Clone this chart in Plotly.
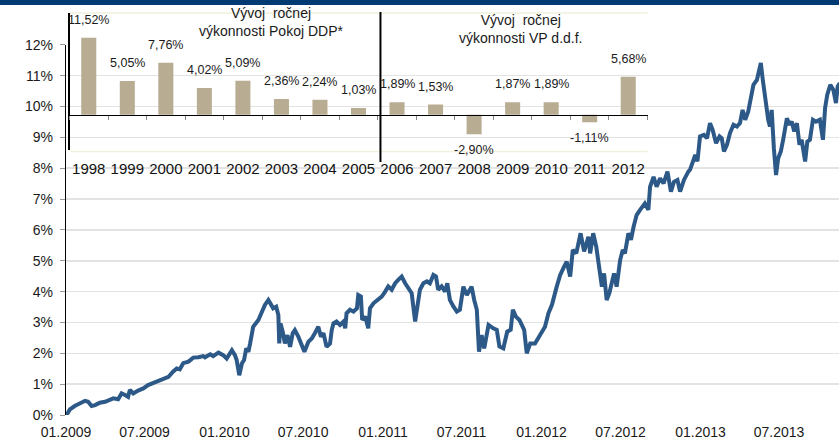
import plotly.graph_objects as go

# ---------------- inset: annual returns ----------------
years = ["1998", "1999", "2000", "2001", "2002", "2003", "2004", "2005",
         "2006", "2007", "2008", "2009", "2010", "2011", "2012"]
annual_returns = [11.52, 5.05, 7.76, 4.02, 5.09, 2.36, 2.24, 1.03,
                  1.89, 1.53, -2.90, 1.87, 1.89, -1.11, 5.68]
return_labels = ["11,52%", "5,05%", "7,76%", "4,02%", "5,09%", "2,36%", "2,24%", "1,03%",
                 "1,89%", "1,53%", "-2,90%", "1,87%", "1,89%", "-1,11%", "5,68%"]
title_ddp = "Vývoj\u00a0 ročnej<br>výkonnosti Pokoj DDP*"
title_vp = "Vývoj\u00a0 ročnej<br>výkonnosti VP d.d.f."

# ---------------- main line: cumulative performance ----------------
dates = [
    "2009-01-02", "2009-01-10", "2009-01-21", "2009-02-02", "2009-02-14", "2009-02-21", "2009-03-01", "2009-03-09",
    "2009-03-20", "2009-04-01", "2009-04-12", "2009-04-20", "2009-05-01", "2009-05-09", "2009-05-17", "2009-05-24",
    "2009-05-28", "2009-06-05", "2009-06-16", "2009-06-28", "2009-07-09", "2009-07-21", "2009-08-02", "2009-08-13",
    "2009-08-25", "2009-09-05", "2009-09-13", "2009-09-20", "2009-09-28", "2009-10-10", "2009-10-21", "2009-11-02",
    "2009-11-13", "2009-11-17", "2009-11-29", "2009-12-06", "2009-12-18", "2009-12-29",
    "2010-01-06", "2010-01-18", "2010-01-25", "2010-01-29", "2010-02-04", "2010-02-10", "2010-02-15", "2010-02-20",
    "2010-02-25", "2010-03-01", "2010-03-08", "2010-03-20", "2010-03-28", "2010-04-04", "2010-04-12", "2010-04-17",
    "2010-04-23", "2010-04-30", "2010-05-05", "2010-05-07", "2010-05-10", "2010-05-15", "2010-05-20", "2010-05-26",
    "2010-06-01", "2010-06-07", "2010-06-12", "2010-06-20", "2010-06-28", "2010-07-04", "2010-07-13", "2010-07-21",
    "2010-07-28", "2010-08-05", "2010-08-11", "2010-08-17", "2010-08-24", "2010-09-01", "2010-09-05", "2010-09-09",
    "2010-09-16", "2010-09-24", "2010-10-02", "2010-10-06", "2010-10-09", "2010-10-17", "2010-10-25", "2010-11-02",
    "2010-11-05", "2010-11-11", "2010-11-14", "2010-11-21", "2010-11-28", "2010-12-02", "2010-12-10", "2010-12-21",
    "2010-12-29",
    "2011-01-06", "2011-01-13", "2011-01-21", "2011-01-29", "2011-02-05", "2011-02-13", "2011-02-21", "2011-02-28",
    "2011-03-08", "2011-03-16", "2011-03-21", "2011-03-27", "2011-04-04", "2011-04-12", "2011-04-19", "2011-04-27",
    "2011-05-03", "2011-05-08", "2011-05-16", "2011-05-24", "2011-05-29", "2011-06-04", "2011-06-12", "2011-06-20",
    "2011-06-27", "2011-07-05", "2011-07-13", "2011-07-24", "2011-07-30", "2011-08-05", "2011-08-10", "2011-08-16",
    "2011-08-22", "2011-09-01", "2011-09-12", "2011-09-20", "2011-09-26", "2011-10-05", "2011-10-14", "2011-10-22",
    "2011-10-27", "2011-11-03", "2011-11-11", "2011-11-22", "2011-11-28", "2011-12-06", "2011-12-17", "2011-12-29",
    "2012-01-09", "2012-01-17", "2012-01-25", "2012-02-05", "2012-02-13", "2012-02-22", "2012-02-28", "2012-03-07",
    "2012-03-13", "2012-03-21", "2012-03-26", "2012-03-31", "2012-04-08", "2012-04-18", "2012-04-22", "2012-04-29",
    "2012-05-06", "2012-05-11", "2012-05-19", "2012-05-24", "2012-05-30", "2012-06-05", "2012-06-11", "2012-06-16",
    "2012-06-22", "2012-06-30", "2012-07-06", "2012-07-11", "2012-07-19", "2012-07-25", "2012-07-31", "2012-08-07",
    "2012-08-15", "2012-08-26", "2012-09-03", "2012-09-07", "2012-09-15", "2012-09-22", "2012-09-30", "2012-10-08",
    "2012-10-17", "2012-10-25", "2012-11-01", "2012-11-09", "2012-11-15", "2012-11-24", "2012-12-04", "2012-12-08",
    "2012-12-16", "2012-12-20", "2012-12-25", "2012-12-31",
    "2013-01-09", "2013-01-16", "2013-01-23", "2013-01-29", "2013-02-06", "2013-02-14", "2013-02-19", "2013-02-24",
    "2013-03-03", "2013-03-10", "2013-03-18", "2013-03-26", "2013-04-02", "2013-04-08", "2013-04-14", "2013-04-21",
    "2013-04-27", "2013-05-03", "2013-05-11", "2013-05-16", "2013-05-20", "2013-05-24", "2013-05-27", "2013-06-01",
    "2013-06-06", "2013-06-10", "2013-06-14", "2013-06-19", "2013-06-24", "2013-06-29", "2013-07-05", "2013-07-11",
    "2013-07-19", "2013-07-25", "2013-07-30", "2013-08-05", "2013-08-11", "2013-08-17", "2013-08-22", "2013-08-30",
    "2013-09-04", "2013-09-10", "2013-09-17", "2013-09-24", "2013-10-03", "2013-10-10", "2013-10-15", "2013-10-20",
    "2013-10-27", "2013-11-03", "2013-11-09", "2013-11-13", "2013-11-18",
]
values = [
    0.00, 0.18, 0.29, 0.38, 0.46, 0.43, 0.29, 0.32,
    0.40, 0.43, 0.51, 0.54, 0.51, 0.70, 0.65, 0.59,
    0.81, 0.70, 0.79, 0.86, 0.97, 1.03, 1.11, 1.16,
    1.24, 1.41, 1.51, 1.48, 1.68, 1.73, 1.86, 1.87,
    1.91, 1.87, 1.97, 1.91, 2.02, 1.94,
    1.83, 2.10, 1.94, 1.78, 1.29, 1.67, 1.78, 2.16,
    2.05, 2.32, 2.86, 3.08, 3.35, 3.57, 3.73, 3.62,
    3.46, 3.51, 3.24, 2.32, 2.97, 2.70, 2.32, 2.59,
    2.21, 2.65, 2.75, 2.54, 2.21, 2.05, 2.37, 2.48,
    2.65, 2.86, 2.54, 2.65, 2.21, 2.32, 2.76, 2.97,
    3.03, 2.92, 3.03, 2.81, 3.30, 3.41, 3.35, 3.46,
    3.89, 3.84, 3.08, 3.19, 2.81, 3.46, 3.62, 3.73,
    3.84,
    4.00, 4.17, 4.06, 4.27, 4.38, 4.49, 4.27, 4.11,
    3.95, 3.03, 3.62, 4.06, 4.27, 4.33, 4.27, 4.54,
    4.49, 4.06, 4.17, 4.00, 4.27, 3.73, 3.52, 3.35,
    3.41, 4.16, 3.89, 4.16, 3.73, 3.41, 2.05, 2.59,
    2.16, 2.92, 2.81, 2.76, 2.22, 2.16, 2.70, 2.76,
    3.41, 3.19, 3.08, 2.76, 2.00, 2.32, 2.32, 2.59,
    2.86, 3.30, 3.57, 4.16, 4.54, 4.81, 4.97, 4.49,
    5.35, 5.24, 5.51, 5.89, 5.30, 5.78, 5.24, 5.89,
    5.46, 5.02, 4.16, 4.59, 3.73, 3.94, 4.38, 4.59,
    4.16, 5.02, 5.35, 5.24, 5.89, 5.68, 6.10, 6.48,
    6.65, 6.86, 6.65, 7.40, 7.72, 7.40, 7.67, 7.51,
    7.89, 7.24, 7.56, 7.62, 7.24, 7.62, 7.89, 7.95,
    8.27, 8.43, 8.22, 9.03,
    9.08, 8.97, 9.46, 9.24, 8.81, 9.03, 8.97, 8.54,
    8.76, 9.14, 9.41, 9.35, 9.46, 9.89, 9.57, 9.84,
    10.27, 10.70, 10.86, 11.19, 11.41, 10.92, 10.59, 9.89,
    9.57, 9.35, 9.89, 8.65, 7.78, 8.32, 8.54, 8.97,
    9.62, 9.41, 9.51, 9.19, 9.46, 8.76, 8.92, 8.22,
    8.86, 8.92, 9.57, 9.51, 9.57, 8.92, 9.95, 10.38,
    10.70, 10.54, 10.11, 10.65, 10.76,
]

x_tick_dates = ["2009-01-01", "2009-07-01", "2010-01-01", "2010-07-01", "2011-01-01",
                "2011-07-01", "2012-01-01", "2012-07-01", "2013-01-01", "2013-07-01"]
x_tick_labels = ["01.2009", "07.2009", "01.2010", "07.2010", "01.2011",
                 "07.2011", "01.2012", "07.2012", "01.2013", "07.2013"]
y_tick_values = [0, 1, 2, 3, 4, 5, 6, 7, 8, 9, 10, 11, 12]
y_tick_labels = ["0%", "1%", "2%", "3%", "4%", "5%", "6%", "7%", "8%", "9%", "10%", "11%", "12%"]

# ---------------- layout geometry ----------------
W, H = 839, 439
ML, MR, MT, MB = 66, 0, 5, 24
PW, PH = W - ML - MR, H - MT - MB


def py(px):  # pixel row -> paper y
    return (H - MB - px) / PH


def pxx(px):  # pixel column -> paper x
    return (px - ML) / PW


FONT = "Arial, Liberation Sans, sans-serif"
TXT = "#1a1a1a"
LINE_COLOR = "#2c5987"
BAR_COLOR = "#b8ad92"

main_dom = [0, py(44.8)]
in_dom_y = [py(150), py(13)]
in_dom_x = [pxx(69.5), pxx(647.5)]
in_range = [-5.25, 15.2]
zero_pos = in_dom_y[0] + (0 - in_range[0]) / (in_range[1] - in_range[0]) * (in_dom_y[1] - in_dom_y[0])

fig = go.Figure()
fig.add_trace(go.Scatter(x=dates, y=values, mode="lines",
                         line=dict(color=LINE_COLOR, width=4),
                         xaxis="x", yaxis="y", hoverinfo="skip", showlegend=False))
fig.add_trace(go.Bar(x=years, y=annual_returns, marker=dict(color=BAR_COLOR, line=dict(width=0)),
                     width=0.39, xaxis="x2", yaxis="y2", hoverinfo="skip", showlegend=False))

annotations = []
for i, (v, lab) in enumerate(zip(annual_returns, return_labels)):
    annotations.append(dict(x=i, y=v, xref="x2", yref="y2", text=lab, showarrow=False,
                            yanchor="middle", xanchor="center", yshift=18 if v >= 0 else -16,
                            font=dict(family=FONT, size=12.5, color=TXT)))
annotations.append(dict(x=pxx(271), y=py(22), xref="paper", yref="paper", text=title_ddp,
                        showarrow=False, xanchor="center", yanchor="middle",
                        font=dict(family=FONT, size=14, color=TXT)))
annotations.append(dict(x=pxx(520), y=py(29), xref="paper", yref="paper", text=title_vp,
                        showarrow=False, xanchor="center", yanchor="middle",
                        font=dict(family=FONT, size=14, color=TXT)))

shapes = [
    # header band
    dict(type="rect", xref="paper", yref="paper", x0=-ML / PW, x1=1, y0=py(5), y1=py(0),
         fillcolor="#003a72", line=dict(width=0), layer="above"),
    # faint inset frame lines
    dict(type="line", xref="paper", yref="paper", x0=in_dom_x[0], x1=in_dom_x[1], y0=py(13), y1=py(13),
         line=dict(color="#f1f1de", width=1.5), layer="below"),
    dict(type="line", xref="paper", yref="paper", x0=in_dom_x[0], x1=in_dom_x[1], y0=py(151.5), y1=py(151.5),
         line=dict(color="#f1f1de", width=1.5), layer="below"),
    # divider between the two periods
    dict(type="line", xref="x2", yref="paper", x0=7.57, x1=7.57, y0=py(162), y1=py(12),
         line=dict(color="#000000", width=2)),
]

fig.update_layout(
    width=W, height=H,
    margin=dict(l=ML, r=MR, t=MT, b=MB, pad=0, autoexpand=False),
    paper_bgcolor="white", plot_bgcolor="rgba(0,0,0,0)",
    showlegend=False,
    font=dict(family=FONT, size=14, color=TXT),
    xaxis=dict(type="date", domain=[0, 1], range=["2009-01-01", "2013-11-16"],
               tickmode="array", tickvals=x_tick_dates, ticktext=x_tick_labels,
               showgrid=False, showline=False, zeroline=False, ticks="",
               ticklabelstandoff=7, tickangle=0, automargin=False,
               tickfont=dict(family=FONT, size=14, color=TXT), anchor="y"),
    yaxis=dict(domain=main_dom, range=[0, 12], tickmode="array",
               tickvals=y_tick_values, ticktext=y_tick_labels,
               showgrid=True, gridcolor="#e3e3e3", gridwidth=1.5, zeroline=False,
               showline=True, linecolor="#000000", linewidth=1.2,
               ticks="outside", ticklen=5, tickcolor="#999999", tickwidth=1,
               ticklabelstandoff=4, automargin=False,
               tickfont=dict(family=FONT, size=14, color=TXT), anchor="x"),
    xaxis2=dict(type="category", domain=in_dom_x, range=[-0.5, 14.5],
                anchor="free", position=zero_pos,
                showline=True, linecolor="#000000", linewidth=1.5,
                ticks="outside", tickson="boundaries", ticklen=4, tickcolor="#888888",
                showgrid=False, zeroline=False, ticklabelstandoff=40, tickangle=0,
                automargin=False,
                tickfont=dict(family=FONT, size=15, color="#111111")),
    yaxis2=dict(domain=in_dom_y, range=in_range, anchor="x2",
                showline=True, linecolor="#000000", linewidth=1.5, automargin=False,
                showticklabels=False, ticks="", showgrid=False, zeroline=False),
    annotations=annotations,
    shapes=shapes,
    bargap=0.6,
)

fig.write_html("out.html", config={"displayModeBar": False, "staticPlot": True},
               post_script="document.body.style.margin='0';document.body.style.overflow='hidden';")
